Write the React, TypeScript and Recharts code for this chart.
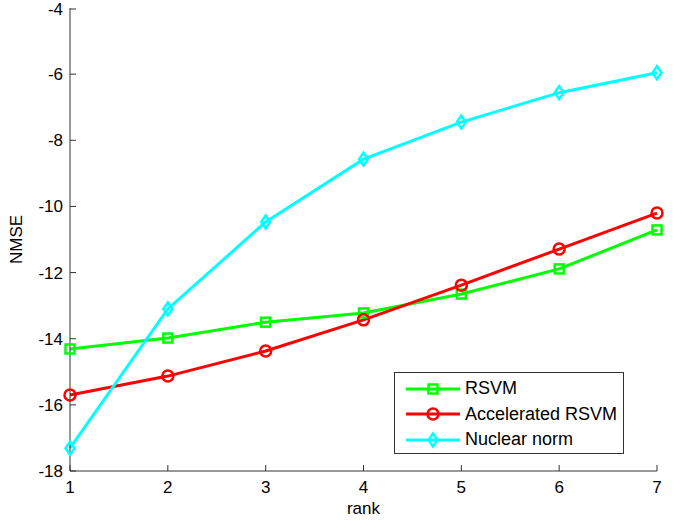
import React from "react";
import { LineChart, Line, XAxis, YAxis } from "recharts";

const ranks = [1, 2, 3, 4, 5, 6, 7];
const rsvm = [-14.31, -13.98, -13.5, -13.22, -12.65, -11.89, -10.71];
const accelRsvm = [-15.7, -15.13, -14.37, -13.43, -12.38, -11.29, -10.2];
const nuclearNorm = [-17.31, -13.1, -10.47, -8.57, -7.45, -6.56, -5.96];
const yTicks = [-18, -16, -14, -12, -10, -8, -6, -4];

const FONT = "'Liberation Sans', Arial, sans-serif";
const AXIS = "#333";

const data = ranks.map((r, i) => ({
  rank: r,
  rsvm: rsvm[i],
  accel: accelRsvm[i],
  nuclear: nuclearNorm[i],
}));

const SERIES = [
  { key: "rsvm", label: "RSVM", color: "#00ff00", marker: "square" },
  { key: "accel", label: "Accelerated RSVM", color: "#ff0000", marker: "circle" },
  { key: "nuclear", label: "Nuclear norm", color: "#00ffff", marker: "diamond" },
] as const;

function Marker({ cx, cy, kind, color }: { cx: number; cy: number; kind: string; color: string }) {
  if (cx == null || cy == null) return null;
  if (kind === "square")
    return <rect x={cx - 4.5} y={cy - 4.5} width={9} height={9} fill="none" stroke={color} strokeWidth={2.5} />;
  if (kind === "circle")
    return <circle cx={cx} cy={cy} r={5.5} fill="none" stroke={color} strokeWidth={2.5} />;
  return (
    <path
      d={`M${cx},${cy - 6.5} L${cx + 4.5},${cy} L${cx},${cy + 6.5} L${cx - 4.5},${cy} Z`}
      fill="none"
      stroke={color}
      strokeWidth={2.5}
    />
  );
}

function YTick(props: any) {
  const { x, y, payload } = props;
  return (
    <g>
      <line x1={x + 7} x2={x + 13} y1={y} y2={y} stroke={AXIS} strokeWidth={1} />
      <text x={x} y={y} dy={6} textAnchor="end" fontSize={17} fontFamily={FONT} fill="#000">
        {payload.value}
      </text>
    </g>
  );
}

function XTick(props: any) {
  const { x, y, payload } = props;
  return (
    <g>
      <line x1={x} x2={x} y1={y - 8} y2={y - 14} stroke={AXIS} strokeWidth={1} />
      <text x={x} y={y} dy={14} textAnchor="middle" fontSize={17} fontFamily={FONT} fill="#000">
        {payload.value}
      </text>
    </g>
  );
}

function LegendBox() {
  return (
    <div
      style={{
        position: "absolute",
        left: 394,
        top: 372,
        width: 230,
        height: 82,
        border: "1px solid #333",
        background: "#fff",
        boxSizing: "border-box",
        paddingTop: 3,
      }}
    >
      {SERIES.map((s) => (
        <div key={s.key} style={{ display: "flex", alignItems: "center", height: 25.5 }}>
          <svg width={60} height={20} style={{ marginLeft: 10 }}>
            <line x1={1} x2={55} y1={10} y2={10} stroke={s.color} strokeWidth={3} />
            <Marker cx={28} cy={10} kind={s.marker} color={s.color} />
          </svg>
          <span style={{ fontFamily: FONT, fontSize: 18, color: "#000" }}>{s.label}</span>
        </div>
      ))}
    </div>
  );
}

export default function App() {
  return (
    <div style={{ position: "absolute", left: 0, top: 0, width: 678, height: 520, background: "#fff" }}>
      <LineChart width={678} height={520} data={data} margin={{ top: 8, right: 21, left: 0, bottom: 0 }}>
        <XAxis
          dataKey="rank"
          type="number"
          domain={[1, 7]}
          ticks={ranks}
          height={49}
          stroke={AXIS}
          tickLine={false}
          tickSize={0}
          tickMargin={8}
          tick={<XTick />}
          label={{
            value: "rank",
            position: "insideBottom",
            offset: 6,
            fontSize: 17,
            fontFamily: FONT,
            fill: "#000",
          }}
        />
        <YAxis
          type="number"
          domain={[-18, -4]}
          ticks={yTicks}
          width={70}
          stroke={AXIS}
          tickLine={false}
          tickSize={0}
          tickMargin={7}
          tick={<YTick />}
          label={{
            value: "NMSE",
            angle: -90,
            position: "insideLeft",
            offset: 16,
            fontSize: 17,
            fontFamily: FONT,
            fill: "#000",
            style: { textAnchor: "middle" },
          }}
        />
        {SERIES.map((s) => (
          <Line
            key={s.key}
            type="linear"
            dataKey={s.key}
            name={s.label}
            stroke={s.color}
            strokeWidth={3}
            isAnimationActive={false}
            dot={(p: any) => <Marker key={`${s.key}-${p.index}`} cx={p.cx} cy={p.cy} kind={s.marker} color={s.color} />}
            activeDot={false}
          />
        ))}
      </LineChart>
      <LegendBox />
    </div>
  );
}
